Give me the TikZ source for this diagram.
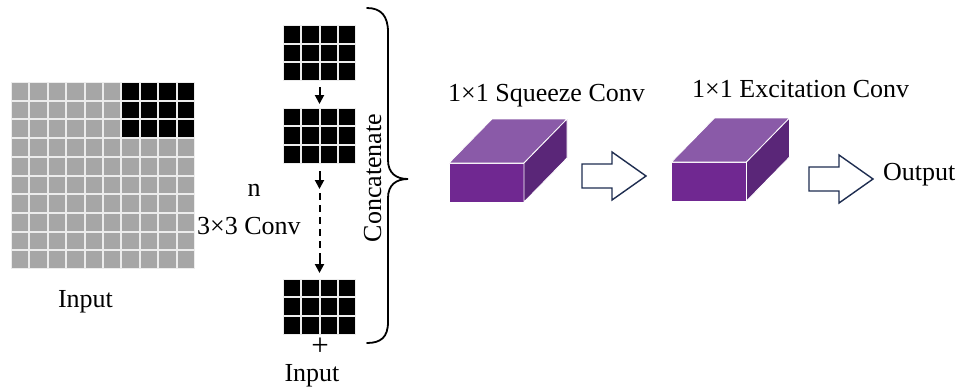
\documentclass[tikz,border=0pt]{standalone}
\usepackage{fontspec}
\setmainfont{Liberation Serif}
\usetikzlibrary{calc,arrows.meta}
\definecolor{cellgray}{RGB}{166,166,166}
\definecolor{gapgray}{RGB}{236,236,236}
\definecolor{frontpurple}{RGB}{112,40,145}
\definecolor{toppurple}{RGB}{138,90,168}
\definecolor{sidepurple}{RGB}{90,38,120}
\definecolor{navy}{RGB}{30,45,80}
\tikzset{
  gridbox/.style={inner sep=0pt, outer sep=0pt, fill=gapgray},
  downarrow/.style={line width=2pt, -{Triangle[length=9pt,width=9pt]}},
  dashedline/.style={line width=2pt, dash pattern=on 7pt off 5pt},
  brace/.style={line width=1.8pt, line cap=round},
  frontface/.style={minimum width=75pt, minimum height=39pt, inner sep=0pt, outer sep=0pt,
    fill=frontpurple, draw=white, line width=0.8pt},
  faceedge/.style={draw=white, line width=0.8pt, line join=round},
  label/.style={inner sep=0pt},
  pics/hollowarrow/.style={code={
    \draw[draw=navy, fill=white, line width=1.4pt, line join=miter]
      (0,-12) -- (30,-12) -- (30,-24) -- (64,0) -- (30,24) -- (30,12) -- (0,12) -- cycle;
  }},
}
\newcommand{\cellgrid}[5]{% node, columns, rows, pitch x, pitch y
  \foreach \ci in {1,...,#2} {
    \foreach \cj in {1,...,#3} {
      \fill[black] ($(#1.north west)+({(\ci-1)*#4+1},{(\cj-1)*#5+1})$) rectangle ++({#4-2},{#5-2});
    }
  }
}
\begin{document}
\begin{tikzpicture}[x=1pt, y=-1pt, font=\fontsize{26}{30}\selectfont]
\useasboundingbox (0,0) rectangle (960,391);
\fill[white] (0,0) rectangle (960,391);

% input feature map: 10 x 10 cells, top-right 4 x 3 block in black
\node[gridbox, minimum width=184pt, minimum height=187pt] (inp) at (103,175.5) {};
\foreach \ci in {1,...,10} {
  \foreach \cj in {1,...,10} {
    \ifnum\ci>6 \ifnum\cj<4 \def\cellcol{black}\else\def\cellcol{cellgray}\fi
    \else \def\cellcol{cellgray}\fi
    \fill[\cellcol] ($(inp.north west)+({(\ci-1)*18.4+1},{(\cj-1)*18.7+1})$) rectangle ++(16.4,16.7);
  }
}
\node[label, anchor=base] (inplabel) at (85.5,307) {Input};

% stack of 3x3 convolution outputs
\node[gridbox, minimum width=73pt, minimum height=56pt] (g1) at (319.5,53) {};
\node[gridbox, minimum width=73pt, minimum height=56pt] (g2) at (319.5,135.5) {};
\node[gridbox, minimum width=73pt, minimum height=56pt] (g3) at (319.5,306.5) {};
\cellgrid{g1}{4}{3}{18.25}{18.67}
\cellgrid{g2}{4}{3}{18.25}{18.67}
\cellgrid{g3}{4}{3}{18.25}{18.67}

\coordinate (d1a) at (319.5,87);
\coordinate (d1b) at (319.5,104);
\coordinate (d2a) at (319.5,171);
\coordinate (d2b) at (319.5,189);
\coordinate (d3a) at (319.5,193);
\coordinate (d3b) at (319.5,258);
\coordinate (d4b) at (319.5,273);
\draw[downarrow] (d1a) -- (d1b);
\draw[downarrow] (d2a) -- (d2b);
\draw[dashedline] (d3a) -- (d3b);
\draw[downarrow] (d3b) -- (d4b);

\node[label, anchor=base] (nlabel) at (254,196) {n};
\node[label, anchor=base west] (convlabel) at (197,234) {3\texttimes3 Conv};
\node[label, anchor=base, font=\fontsize{31}{34}\selectfont] (plus) at (320,355) {+};
\node[label, anchor=base] (inplabel2) at (312,381) {Input};

% concatenation brace
\draw[brace] (367,8) .. controls (381,8) and (388,16) .. (388,32)
  -- (388,160) .. controls (388,173) and (396,179) .. (408,179)
  .. controls (396,179) and (388,185) .. (388,198)
  -- (388,322) .. controls (388,337) and (381,343) .. (367,343);
\node[label, rotate=90, anchor=base] (concat) at (381,178) {Concatenate};

% 1x1 squeeze convolution block
\node[label, anchor=base west] (sqlabel) at (448,101) {1\texttimes1 Squeeze Conv};
\node[frontface] (sq) at (486.5,182.5) {};
\path[fill=toppurple, faceedge] (sq.north west) -- (sq.north east) -- ++(43,-44)
  -- ($(sq.north west)+(43,-44)$) -- cycle;
\path[fill=sidepurple, faceedge] (sq.north east) -- ++(43,-44) -- ++(0,39)
  -- (sq.south east) -- cycle;
\coordinate (h1) at (582,176);
\pic at (h1) {hollowarrow};

% 1x1 excitation convolution block
\node[label, anchor=base west] (exlabel) at (692,97) {1\texttimes1 Excitation Conv};
\node[frontface] (ex) at (709,181.5) {};
\path[fill=toppurple, faceedge] (ex.north west) -- (ex.north east) -- ++(43,-44)
  -- ($(ex.north west)+(43,-44)$) -- cycle;
\path[fill=sidepurple, faceedge] (ex.north east) -- ++(43,-44) -- ++(0,39)
  -- (ex.south east) -- cycle;
\coordinate (h2) at (809,179);
\pic at (h2) {hollowarrow};
\node[label, anchor=base west] (outlabel) at (883,180) {Output};
\end{tikzpicture}
\end{document}
